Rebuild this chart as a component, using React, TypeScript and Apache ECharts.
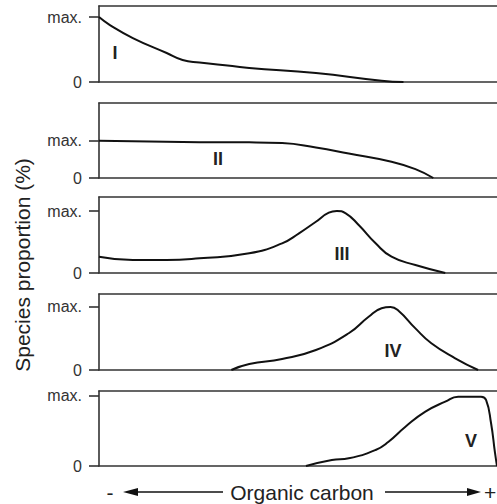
import React, { useEffect, useRef } from "react";
import * as echarts from "echarts";

// Organic carbon gradient (0 = low, 100 = high) vs species proportion (1 = max.)
const curveI: number[][] = [
  [0, 1.0], [2.75, 0.877], [8.5, 0.677], [17, 0.446], [21, 0.338], [25.25, 0.3],
  [33.5, 0.246], [37.75, 0.215], [54.5, 0.138], [71, 0.02], [76.5, 0],
];
const curveII: number[][] = [
  [0, 1.0], [25.25, 0.965], [37.75, 0.96], [46, 0.94], [54.5, 0.82], [62.75, 0.66],
  [73.5, 0.44], [79.5, 0.24], [84, 0],
];
const curveIII: number[][] = [
  [0, 0.263], [8.5, 0.21], [17, 0.21], [25.25, 0.237], [37.75, 0.318], [46, 0.479],
  [50.25, 0.64], [54.5, 0.827], [57.75, 0.973], [59.75, 1.0], [62, 0.963],
  [65.25, 0.774], [69.5, 0.479], [73.5, 0.263], [79.5, 0.129], [87, 0],
];
const curveIV: number[][] = [
  [33.25, 0], [37.75, 0.095], [46, 0.175], [54.5, 0.317], [62.75, 0.583],
  [67.75, 0.846], [71, 0.98], [73.25, 1.0], [75.25, 0.94], [79.5, 0.66],
  [83.5, 0.424], [89.5, 0.186], [95.25, 0],
];
const curveV: number[][] = [
  [52, 0], [58.5, 0.086], [62.75, 0.11], [69.5, 0.229], [72.75, 0.347], [77, 0.561],
  [82, 0.776], [87, 0.919], [90.25, 0.99], [96, 0.99], [97.25, 0.943],
  [98.5, 0.614], [99.5, 0.186], [100, 0],
];
const curves = [curveI, curveII, curveIII, curveIV, curveV];
const panelNames = ["I", "II", "III", "IV", "V"];
const yTickValues = [0, 1];
const yTickLabels = ["0", "max."];
const yTitle = "Species proportion (%)";
const xTitle = "Organic carbon";

export default function App() {
  const ref = useRef<HTMLDivElement>(null);
  useEffect(() => {
    if (!ref.current) return;
    const chart = echarts.init(ref.current, null, { renderer: "svg" });
    const font = "'Liberation Sans', Arial, sans-serif";
    const tops = [6, 103, 197, 294, 391];
    const heights = [76, 75, 76, 76, 75];
    const yMaxes = [1.17, 2.02, 1.226, 1.206, 1.071];
    const labelPos = [
      [115, 53], [218, 159], [342, 254], [393, 351], [471, 441],
    ];
    const frame = "#333";
    const textColor = "#222";

    const grid = tops.map((t, i) => ({
      left: 99, right: -2, top: t, height: heights[i],
      show: false,
    }));
    const xAxis = tops.flatMap((_, i) => [
      {
        type: "value", gridIndex: i, min: 0, max: 100, position: "bottom",
        axisLine: { show: true, lineStyle: { color: frame, width: 1.6 } }, axisTick: { show: false },
        axisLabel: { show: false }, splitLine: { show: false },
      },
      {
        type: "value", gridIndex: i, min: 0, max: 100, position: "top",
        axisLine: { show: true, lineStyle: { color: frame, width: 1.6 } }, axisTick: { show: false },
        axisLabel: { show: false }, splitLine: { show: false },
      },
    ]);
    const yAxis = tops.map((_, i) => ({
      type: "value", gridIndex: i, min: 0, max: yMaxes[i], position: "left",
      axisLine: { show: true, lineStyle: { color: frame, width: 1.6 } },
      axisTick: { show: true, customValues: yTickValues, length: 10, lineStyle: { color: frame, width: 1.6 } },
      axisLabel: {
        customValues: yTickValues, margin: 17, color: "#333", fontSize: 16, fontFamily: font,
        formatter: (v: number) => yTickLabels[yTickValues.indexOf(v)] ?? "",
      },
      splitLine: { show: false },
    }));
    const series = curves.map((c, i) => ({
      type: "line", xAxisIndex: i * 2, yAxisIndex: i, data: c,
      smooth: 0.5, showSymbol: false, symbol: "none",
      lineStyle: { color: "#111", width: 2 },
    }));

    const ay = 492;
    const graphic: any[] = [
      ...panelNames.map((n, i) => ({
        type: "text", x: labelPos[i][0], y: labelPos[i][1],
        style: { text: n, fill: textColor, font: `bold 18px ${font}`, textAlign: "center", textVerticalAlign: "middle" },
      })),
      {
        type: "text", x: 22, y: 265, rotation: Math.PI / 2,
        style: { text: yTitle, fill: textColor, font: `21px ${font}`, textAlign: "center", textVerticalAlign: "middle" },
      },
      {
        type: "text", x: 302, y: ay,
        style: { text: xTitle, fill: textColor, font: `21px ${font}`, textAlign: "center", textVerticalAlign: "middle" },
      },
      {
        type: "text", x: 110, y: ay,
        style: { text: "-", fill: textColor, font: `21px ${font}`, textAlign: "center", textVerticalAlign: "middle" },
      },
      {
        type: "text", x: 490, y: ay,
        style: { text: "+", fill: textColor, font: `21px ${font}`, textAlign: "center", textVerticalAlign: "middle" },
      },
      { type: "line", shape: { x1: 133, y1: ay, x2: 223, y2: ay }, style: { stroke: "#111", lineWidth: 1.5 } },
      { type: "polygon", shape: { points: [[123, ay], [138, ay - 4], [138, ay + 4]] }, style: { fill: "#111" } },
      { type: "line", shape: { x1: 385, y1: ay, x2: 470, y2: ay }, style: { stroke: "#111", lineWidth: 1.5 } },
      { type: "polygon", shape: { points: [[481, ay], [467, ay - 4], [467, ay + 4]] }, style: { fill: "#111" } },
    ];

    chart.setOption({
      animation: false,
      backgroundColor: "#fff",
      grid, xAxis, yAxis, series, graphic,
    } as any);
    return () => chart.dispose();
  }, []);
  return (
    <div
      ref={ref}
      style={{ position: "fixed", left: 0, top: 0, width: 497, height: 504 }}
    />
  );
}
